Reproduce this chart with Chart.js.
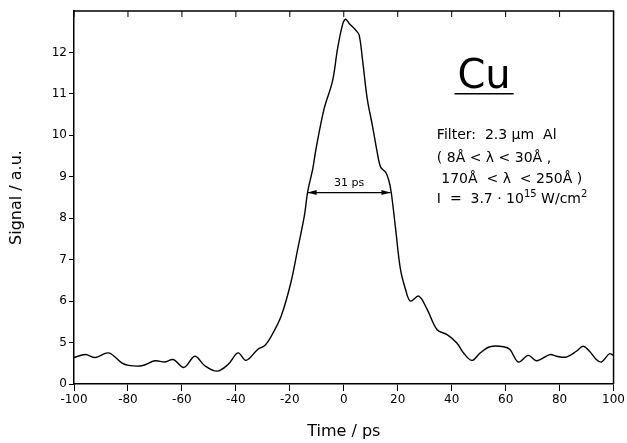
<!DOCTYPE html>
<html>
<head>
<meta charset="utf-8">
<script src="https://cdn.jsdelivr.net/npm/chart.js@4"></script>
<style>
  html, body { margin: 0; padding: 0; background: #fff; }
  #wrap { width: 627px; height: 443px; }
</style>
</head>
<body>
<div id="wrap"><canvas id="c"></canvas></div>
<script>
// streak camera trace, Cu target
const times = [-100, -95.8, -92.1, -87.2, -82.3, -79.8, -74.9, -70, -66.3, -63.2, -59.2, -55.2, -51.5,
  -46.9, -42.9, -39.2, -36.2, -31.8, -29.4, -26.9, -23.2, -19.6, -17.1, -14.6, -13.4, -11.5, -10.3,
  -7.3, -4.2, -2.3, -0.5, 0.7, 2.0, 4.4, 5.7, 6.9, 8.7, 10.6, 12.4, 13.7, 15.5, 16.7, 17.6, 19.2,
  21, 22.9, 24.7, 27.8, 30.9, 34.6, 38.3, 41.9, 44.4, 47.5, 50.6, 54.2, 59.2, 61.6, 64.7, 68.4,
  71.5, 76.4, 78.9, 82.5, 86.2, 88.7, 91.1, 93.6, 95.5, 98.5, 100];
const signal = [4.64, 4.71, 4.64, 4.75, 4.51, 4.45, 4.44, 4.56, 4.53, 4.59, 4.40, 4.67, 4.44,
  4.31, 4.47, 4.75, 4.57, 4.84, 4.92, 5.15, 5.64, 6.45, 7.25, 8.06, 8.63, 9.19, 9.67,
  10.64, 11.3, 12.09, 12.66, 12.8, 12.7, 12.54, 12.42, 11.85, 10.88, 10.24, 9.59, 9.23, 9.11, 8.91, 8.62, 7.75,
  6.77, 6.28, 6.0, 6.12, 5.80, 5.31, 5.19, 4.99, 4.75, 4.57, 4.75, 4.90, 4.90, 4.83, 4.53, 4.69,
  4.56, 4.71, 4.67, 4.65, 4.79, 4.91, 4.79, 4.59, 4.53, 4.73, 4.69];

const xTicks = [-100, -80, -60, -40, -20, 0, 20, 40, 60, 80, 100];
const yTicks = [4, 5, 6, 7, 8, 9, 10, 11, 12];
const yTickLabels = ["0", "5", "6", "7", "8", "9", "10", "11", "12"];   // broken axis: bottom tick reads 0

const fwhm = { from: -13.4, to: 17.3, level: 8.62, label: "31 ps" };
const noteLines = ["Filter:  2.3 \u00b5m  Al", "( 8\u00c5 < \u03bb < 30\u00c5 ,", " 170\u00c5  < \u03bb  < 250\u00c5 )"];

const FONT = "'DejaVu Sans', sans-serif";

// frame, inward top ticks, FWHM arrow and the text block
const extras = {
  id: "extras",
  afterDraw(chart) {
    const { ctx, chartArea: a, scales: { x, y } } = chart;
    ctx.save();
    ctx.strokeStyle = "#000";
    ctx.fillStyle = "#000";
    ctx.lineWidth = 1.5;
    ctx.beginPath();
    ctx.moveTo(a.left, a.top); ctx.lineTo(a.right, a.top); ctx.lineTo(a.right, a.bottom);
    ctx.stroke();
    ctx.lineWidth = 1;
    xTicks.forEach(v => {
      const px = x.getPixelForValue(v);
      ctx.beginPath(); ctx.moveTo(px, a.top); ctx.lineTo(px, a.top + 6); ctx.stroke();
    });

    // FWHM arrow
    const x1 = x.getPixelForValue(fwhm.from), x2 = x.getPixelForValue(fwhm.to), yy = y.getPixelForValue(fwhm.level);
    ctx.lineWidth = 1.3;
    ctx.beginPath(); ctx.moveTo(x1, yy); ctx.lineTo(x2, yy); ctx.stroke();
    const head = (tip, dir) => {
      ctx.beginPath();
      ctx.moveTo(tip, yy); ctx.lineTo(tip + dir * 9, yy - 2.5); ctx.lineTo(tip + dir * 9, yy + 2.5);
      ctx.closePath(); ctx.fill();
    };
    head(x1, 1); head(x2, -1);
    ctx.font = `11px ${FONT}`;
    ctx.textAlign = "center"; ctx.textBaseline = "alphabetic";
    ctx.fillText(fwhm.label, (x1 + x2) / 2, yy - 7);

    // "Cu" title with underline
    const cx = x.getPixelForValue(52), cy = y.getPixelForValue(11.15);
    ctx.font = `40px ${FONT}`;
    ctx.fillText("Cu", cx, cy);
    const w = ctx.measureText("Cu").width;
    ctx.lineWidth = 1.5;
    ctx.beginPath(); ctx.moveTo(cx - w / 2 - 3, cy + 6); ctx.lineTo(cx + w / 2 + 3, cy + 6); ctx.stroke();

    // parameter block
    ctx.textAlign = "left";
    ctx.font = `14px ${FONT}`;
    const lx = x.getPixelForValue(34.5);
    const rows = [9.9, 9.35, 8.86, 8.37];
    noteLines.forEach((t, i) => ctx.fillText(t, lx, y.getPixelForValue(rows[i])));
    let px = lx, py = y.getPixelForValue(rows[3]);
    const seg = (t, size, dy) => { ctx.font = `${size}px ${FONT}`; ctx.fillText(t, px, py + dy); px += ctx.measureText(t).width; };
    seg("I  =  3.7 \u00b7 10", 14, 0);
    seg("15", 10, -6);
    seg(" W/cm", 14, 0);
    seg("2", 10, -6);
    ctx.restore();
  }
};

new Chart(document.getElementById("c"), {
  type: "line",
  data: {
    datasets: [{
      data: times.map((t, i) => ({ x: t, y: signal[i] })),
      borderColor: "#000", borderWidth: 1.4, pointRadius: 0, tension: 0.35, fill: false
    }]
  },
  options: {
    responsive: true, maintainAspectRatio: false, animation: false,
    layout: { padding: { top: 11, right: 11, left: 0, bottom: 0 } },
    plugins: { legend: { display: false }, tooltip: { enabled: false } },
    scales: {
      x: {
        type: "linear", min: -100, max: 100,
        afterBuildTicks: s => { s.ticks = xTicks.map(v => ({ value: v })); },
        afterFit: s => { s.height = 59; },
        border: { color: "#000", width: 1.5 },
        grid: { drawOnChartArea: false, color: "#000", tickLength: 7, tickWidth: 1 },
        ticks: { color: "#000", font: { family: FONT, size: 12 }, padding: 2, maxRotation: 0 },
        title: { display: true, text: "Time / ps", color: "#000", font: { family: FONT, size: 16 }, padding: { top: 4, bottom: 2 } }
      },
      y: {
        min: 4, max: 13,
        afterBuildTicks: s => { s.ticks = yTicks.map(v => ({ value: v })); },
        afterFit: s => { s.width = 74; },
        border: { color: "#000", width: 1.5 },
        grid: { drawOnChartArea: false, color: "#000", tickLength: 5, tickWidth: 1 },
        ticks: {
          color: "#000", font: { family: FONT, size: 12 }, padding: 2,
          callback: v => yTickLabels[yTicks.indexOf(v)]
        },
        title: { display: true, text: "Signal / a.u.", color: "#000", font: { family: FONT, size: 16 }, padding: { top: 7, bottom: 4 } }
      }
    }
  },
  plugins: [extras]
});
</script>
</body>
</html>
